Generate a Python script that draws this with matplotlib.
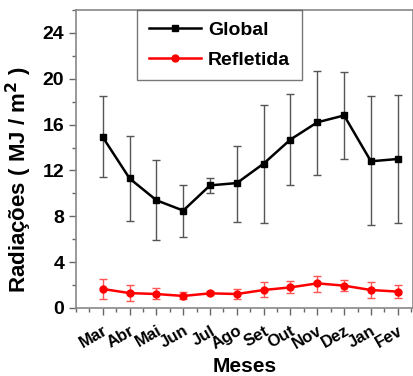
import numpy as np
import matplotlib.pyplot as plt
import matplotlib.transforms as mtransforms
from matplotlib.ticker import MultipleLocator

plt.rcParams['font.family'] = ['Liberation Sans', 'DejaVu Sans']
plt.rcParams['font.weight'] = 'bold'

meses = ['Mar', 'Abr', 'Mai', 'Jun', 'Jul', 'Ago', 'Set', 'Out', 'Nov', 'Dez', 'Jan', 'Fev']
glob = [14.9, 11.3, 9.4, 8.5, 10.7, 10.9, 12.6, 14.7, 16.2, 16.8, 12.8, 13.0]
glob_top = [18.5, 15.0, 12.9, 10.7, 11.35, 14.1, 17.7, 18.7, 20.7, 20.6, 18.5, 18.6]
glob_bot = [11.4, 7.6, 5.9, 6.2, 10.0, 7.5, 7.4, 10.7, 11.6, 13.0, 7.2, 7.4]
refl = [1.66, 1.3, 1.22, 1.05, 1.28, 1.22, 1.57, 1.8, 2.15, 1.95, 1.57, 1.43]
refl_top = [2.5, 2.0, 1.75, 1.4, 1.45, 1.63, 2.24, 2.33, 2.8, 2.45, 2.24, 2.0]
refl_bot = [0.76, 0.64, 0.75, 0.75, 1.1, 0.8, 0.93, 1.28, 1.43, 1.48, 0.84, 0.87]

x = np.arange(1, len(meses) + 1)
glob = np.array(glob)
refl = np.array(refl)
gerr = [glob - np.array(glob_bot), np.array(glob_top) - glob]
rerr = [refl - np.array(refl_bot), np.array(refl_top) - refl]

fig = plt.figure(figsize=(4.14, 3.76), dpi=100)
ax = fig.add_axes([76/414, (376-308)/376, (413-76)/414, (308-10)/376])

ax.errorbar(x, glob, yerr=gerr, fmt='none', ecolor='#555555', elinewidth=1, capsize=3, capthick=1)
ax.errorbar(x, refl, yerr=rerr, fmt='none', ecolor='#ff5555', elinewidth=1, capsize=3, capthick=1)
ax.plot(x, glob, color='black', marker='s', ms=4, lw=1.8, label='Global')
ax.plot(x, refl, color='red', marker='o', ms=5, lw=1.8, label='Refletida')

ax.set_xlim(0, 12.57)
ax.set_ylim(0, 26)
ax.set_xticks(x)
ax.set_xticklabels(meses, rotation=30, ha='right', rotation_mode='anchor', fontsize=12)
off = mtransforms.ScaledTranslation(6/100, 0, fig.dpi_scale_trans)
for lab in ax.get_xticklabels():
    lab.set_transform(lab.get_transform() + off)
ax.xaxis.set_minor_locator(MultipleLocator(0.5))
ax.yaxis.set_major_locator(MultipleLocator(4))
ax.yaxis.set_minor_locator(MultipleLocator(2))
ax.tick_params(axis='y', labelsize=14, length=5, width=1, color='#666666')
ax.tick_params(axis='x', length=5, width=1, color='#666666', pad=6)
ax.tick_params(which='minor', length=3, width=1, color='#666666')
for s in ax.spines.values():
    s.set_color('#888888')
    s.set_linewidth(1.2)

ax.set_xlabel('Meses', fontsize=15, fontweight='bold', labelpad=3)
ax.set_ylabel('Radiações ( MJ / m$^\\mathbf{2}$ )', fontsize=16, fontweight='bold')
ax.yaxis.set_label_coords(-0.125, 0.43)

leg = ax.legend(loc='upper left', bbox_to_anchor=(0.181, 1.0), borderaxespad=0, fontsize=14,
                frameon=True, fancybox=False, edgecolor='#555555', handlelength=2.7, borderpad=0.6,
                labelspacing=0.6, handletextpad=0.35)
leg.get_frame().set_linewidth(1)

fig.savefig('out.png', dpi=100)
